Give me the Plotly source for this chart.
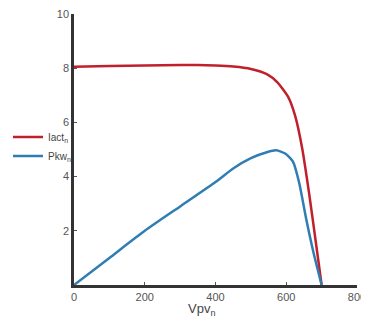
import plotly.graph_objects as go

v_iact = [0, 100, 200, 300, 350, 400, 450, 500, 545, 575, 605, 625, 645, 665, 685, 700]
iact = [8.05, 8.08, 8.1, 8.12, 8.12, 8.1, 8.06, 7.97, 7.78, 7.48, 6.95, 6.25, 5.05, 3.35, 1.45, 0.0]

v_pkw = [0, 100, 200, 300, 400, 450, 500, 545, 572, 597, 619, 636, 657, 677, 700]
pkw = [0.0, 1.0, 2.0, 2.9, 3.8, 4.3, 4.68, 4.9, 4.97, 4.85, 4.55, 3.8, 2.4, 1.2, 0.0]

x_ticks = [0, 200, 400, 600, 800]
y_ticks = [2, 4, 6, 8, 10]

fig = go.Figure()
fig.add_trace(go.Scatter(x=v_iact, y=iact, mode="lines", name="Iact<sub>n</sub>",
                         line=dict(color="#c0202c", width=2.5, shape="spline", smoothing=0.6)))
fig.add_trace(go.Scatter(x=v_pkw, y=pkw, mode="lines", name="Pkw<sub>n</sub>",
                         line=dict(color="#2f7db3", width=2.5, shape="spline", smoothing=0.6)))

fig.add_annotation(text="Vpv<sub>n</sub>", xref="paper", yref="paper", x=0.449, y=-0.092,
                   xanchor="center", yanchor="middle", showarrow=False,
                   font=dict(size=13, color="#444"))

fig.update_layout(
    width=369, height=320,
    margin=dict(l=66, r=20, t=6, b=43, autoexpand=False),
    plot_bgcolor="white", paper_bgcolor="white",
    font=dict(family="Liberation Sans, Arial", size=11, color="#555"),
    legend=dict(xref="container", yref="container", x=0.0, y=0.567,
                xanchor="left", yanchor="middle",
                bgcolor="rgba(0,0,0,0)", font=dict(size=10, color="#444"),
                itemwidth=30, tracegroupgap=0),
    xaxis=dict(range=[0, 800], tickvals=x_ticks, showgrid=False, zeroline=False,
               showline=True, linecolor="#333", linewidth=2.5, ticks="inside",
               ticklen=3, tickcolor="#555", automargin=False, ticklabeloverflow="allow"),
    yaxis=dict(range=[0, 10], tickvals=y_ticks, showgrid=False, zeroline=False,
               showline=True, linecolor="#333", linewidth=2.5, ticks="inside",
               ticklen=3, tickcolor="#555", automargin=False, ticklabeloverflow="allow"),
)

fig.write_html("out.html")
